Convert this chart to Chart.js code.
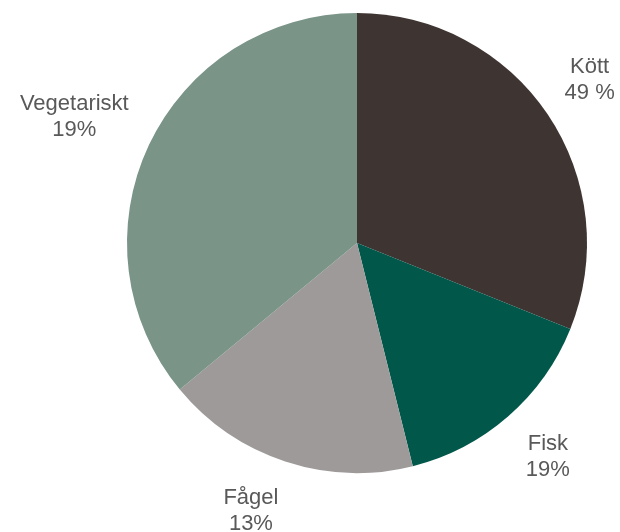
<!DOCTYPE html>
<html>
<head>
<meta charset="utf-8">
<script src="https://cdn.jsdelivr.net/npm/chart.js@4"></script>
<style>
  html, body { margin: 0; padding: 0; background: #fff; }
  #wrap { width: 620px; height: 532px; }
</style>
</head>
<body>
<div id="wrap"><canvas id="pie"></canvas></div>
<script>
// slice sizes (share of the circle, %)
const categories = ['Kött', 'Fisk', 'Fågel', 'Vegetariskt'];
const values = [31.1, 15.0, 17.9, 36.0];
// percentage text as printed next to each slice
const pctLabels = ['49 %', '19%', '13%', '19%'];
const colors = ['#3e3431', '#00574a', '#9e9a99', '#7a9488'];

// small hand nudges so the labels sit where the original put them
const nudge = [[-2, -4], [7, 0], [-17, -2], [0, -5]];

const outsideLabels = {
  id: 'outsideLabels',
  afterDatasetsDraw(chart) {
    const ctx = chart.ctx;
    const meta = chart.getDatasetMeta(0);
    ctx.save();
    ctx.font = '22px "Liberation Sans", Arial, sans-serif';
    ctx.fillStyle = '#595959';
    ctx.textAlign = 'center';
    ctx.textBaseline = 'middle';
    const lh = 26;
    meta.data.forEach((arc, i) => {
      const p = arc.getProps(['x', 'y', 'startAngle', 'endAngle', 'outerRadius'], true);
      const mid = (p.startAngle + p.endAngle) / 2;
      const lines = [categories[i], pctLabels[i]];
      const hw = Math.max(...lines.map(t => ctx.measureText(t).width)) / 2;
      const r = p.outerRadius + 28;
      const cx = p.x + Math.cos(mid) * (r + hw) + nudge[i][0];
      const cy = p.y + Math.sin(mid) * (r + lh) + nudge[i][1];
      ctx.fillText(lines[0], cx, cy - lh / 2);
      ctx.fillText(lines[1], cx, cy + lh / 2);
    });
    ctx.restore();
  }
};

new Chart(document.getElementById('pie'), {
  type: 'pie',
  data: {
    labels: categories,
    datasets: [{
      data: values,
      backgroundColor: colors,
      borderWidth: 0
    }]
  },
  options: {
    responsive: true,
    maintainAspectRatio: false,
    animation: false,
    layout: { padding: { left: 127, right: 33, top: 13, bottom: 59 } },
    plugins: {
      legend: { display: false },
      tooltip: { enabled: false }
    }
  },
  plugins: [outsideLabels]
});
</script>
</body>
</html>
